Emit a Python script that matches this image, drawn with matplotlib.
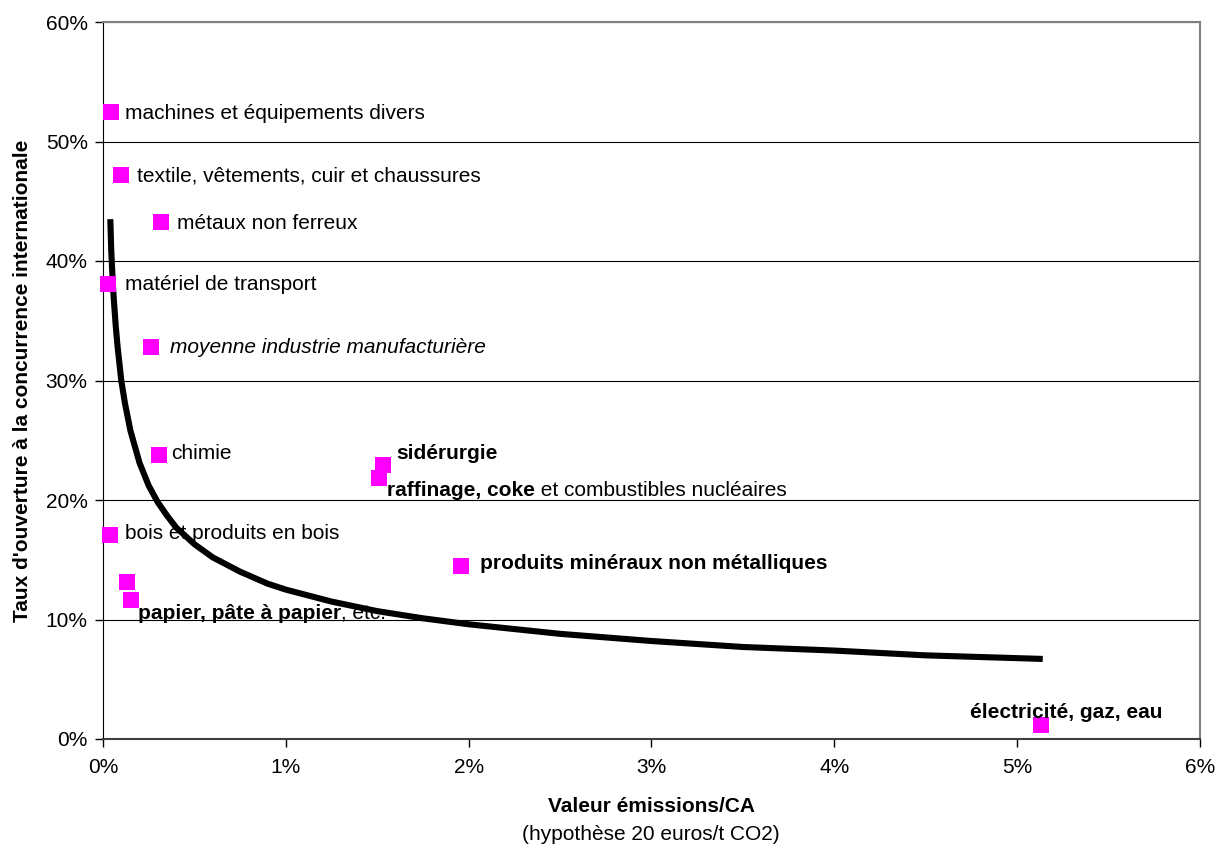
import matplotlib.pyplot as plt
from matplotlib.ticker import FuncFormatter

plt.rcParams['font.family'] = ['Liberation Sans', 'DejaVu Sans']

# secteurs : (valeur émissions/CA en %, taux d'ouverture en %)
secteurs = [
    'machines et équipements divers',
    'textile, vêtements, cuir et chaussures',
    'métaux non ferreux',
    'matériel de transport',
    'moyenne industrie manufacturière',
    'chimie',
    'sidérurgie',
    'raffinage, coke',
    'bois et produits en bois',
    'produits minéraux non métalliques',
    'papier 1',
    'papier, pâte à papier',
    'électricité, gaz, eau',
]
emissions_ca = [0.044, 0.098, 0.317, 0.027, 0.263, 0.306, 1.53, 1.51, 0.038, 1.96, 0.131, 0.153, 5.13]
ouverture = [52.5, 47.2, 43.3, 38.1, 32.8, 23.8, 22.9, 21.8, 17.1, 14.5, 13.1, 11.6, 1.2]

# courbe de tendance
tend_x = [0.04, 0.045, 0.05, 0.055, 0.06, 0.07, 0.08, 0.09, 0.10, 0.12, 0.15, 0.20,
          0.25, 0.30, 0.35, 0.40, 0.50, 0.60, 0.75, 0.90, 1.0, 1.25, 1.5, 1.75,
          2.0, 2.5, 3.0, 3.5, 4.0, 4.5, 5.14]
tend_y = [43.5, 40.9, 39.3, 37.8, 36.6, 34.5, 32.8, 31.4, 30.0, 28.1, 25.8, 23.1,
          21.2, 19.8, 18.7, 17.7, 16.3, 15.2, 14.0, 13.0, 12.5, 11.5, 10.7, 10.1,
          9.6, 8.8, 8.2, 7.7, 7.4, 7.0, 6.7]

fig = plt.figure(figsize=(12.26, 8.48), dpi=100)
ax = fig.add_axes([103 / 1226, 109 / 848, 1097 / 1226, 717 / 848])

ax.set_xlim(0, 6)
ax.set_ylim(0, 60)
ax.set_xticks(range(0, 7))
ax.set_yticks(range(0, 61, 10))
ax.xaxis.set_major_formatter(FuncFormatter(lambda v, p: f'{v:.0f}%'))
ax.yaxis.set_major_formatter(FuncFormatter(lambda v, p: f'{v:.0f}%'))
ax.tick_params(axis='both', direction='out', length=6, width=1, labelsize=15, color='black')
ax.tick_params(axis='x', pad=8)
ax.tick_params(axis='y', pad=5)

ax.grid(axis='y', color='black', linewidth=0.8)
ax.set_axisbelow(True)
for s in ['top', 'right']:
    ax.spines[s].set_color('#808080')
    ax.spines[s].set_linewidth(1.5)
ax.spines['left'].set_color('black')
ax.spines['bottom'].set_color('#404040')
ax.spines['bottom'].set_linewidth(1.5)

ax.plot(tend_x, tend_y, color='black', linewidth=4.4, solid_capstyle='butt',
        solid_joinstyle='round', zorder=3)
ax.plot(emissions_ca, ouverture, linestyle='none', marker='s', markersize=11.5,
        color='#FF00FF', markeredgewidth=0, zorder=4, clip_on=False)

fs = 15


def etiquette(i, dx, dy, texte, weight='normal', style='normal', ha='left'):
    # dy en pixels vers le bas
    return ax.annotate(texte, xy=(emissions_ca[i], ouverture[i]), xytext=(dx, -dy - 1.5),
                       textcoords='offset pixels', ha=ha, va='center',
                       fontsize=fs, fontweight=weight, fontstyle=style, zorder=5)


etiquette(0, 14, 0, 'machines et équipements divers')
etiquette(1, 16, 0, 'textile, vêtements, cuir et chaussures')
etiquette(2, 16, 0, 'métaux non ferreux')
etiquette(3, 17, -1, 'matériel de transport')
etiquette(4, 19, -1, 'moyenne industrie manufacturière', style='italic')
etiquette(5, 12, -3, 'chimie')
etiquette(6, 14, -13, 'sidérurgie', weight='bold')
t = etiquette(7, 8, 11, 'raffinage, coke', weight='bold')
ax.annotate(' et combustibles nucléaires', xy=(1, 0), xycoords=t, ha='left', va='bottom',
            fontsize=fs, zorder=5)
etiquette(8, 15, -3, 'bois et produits en bois')
etiquette(9, 19, -4, 'produits minéraux non métalliques', weight='bold')
t = etiquette(11, 7, 12, 'papier, pâte à papier', weight='bold')
ax.annotate(', etc.', xy=(1, 0), xycoords=t, ha='left', va='bottom', fontsize=fs, zorder=2)
etiquette(12, 25, -14, 'électricité, gaz, eau', weight='bold', ha='center')

ax.set_ylabel("Taux d'ouverture à la concurrence internationale", fontsize=15,
              fontweight='bold', labelpad=10)
fig.text(651 / 1226, 1 - 806 / 848, 'Valeur émissions/CA', ha='center', va='center',
         fontsize=15, fontweight='bold')
fig.text(651 / 1226, 1 - 834 / 848, '(hypothèse 20 euros/t CO2)', ha='center', va='center',
         fontsize=15)

fig.savefig('out.png', dpi=100)
